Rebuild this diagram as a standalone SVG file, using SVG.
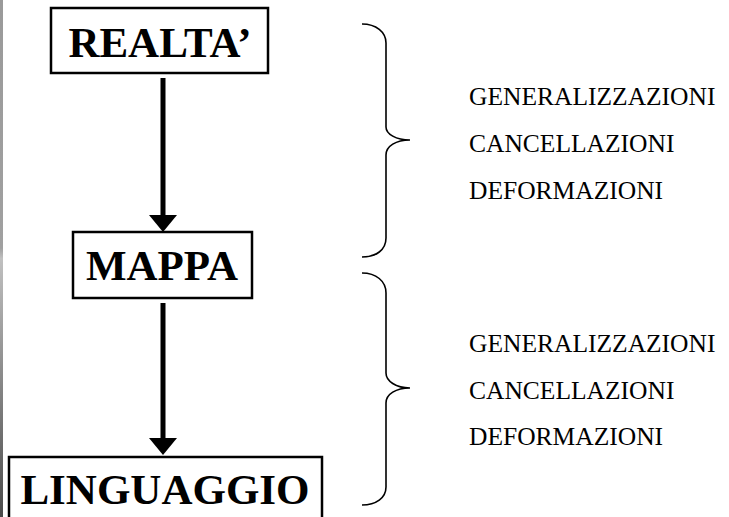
<svg xmlns="http://www.w3.org/2000/svg" width="729" height="517" viewBox="0 0 729 517">
<defs>
<linearGradient id="strip" x1="0" y1="0" x2="0" y2="1">
<stop offset="0" stop-color="#9a9a9a"/>
<stop offset="0.48" stop-color="#a0a0a0"/>
<stop offset="0.5" stop-color="#c0c0c0"/>
<stop offset="1" stop-color="#4a4a4a"/>
</linearGradient>
<marker id="head" markerUnits="userSpaceOnUse" markerWidth="17" markerHeight="28" refX="0" refY="14" orient="auto" overflow="visible">
<path d="M0,0 L17,14 L0,28 Z" fill="#000"/>
</marker>
<style>
.box{fill:#fff;stroke:#000;stroke-width:2.5}
.title{font-family:"Liberation Serif","Times New Roman",serif;font-weight:bold;font-size:43px;fill:#000;text-anchor:middle}
.lbl{font-family:"Liberation Serif","Times New Roman",serif;font-size:25.5px;fill:#000}
.brace{fill:none;stroke:#000;stroke-width:1.6}
.shaft{stroke:#000;stroke-width:5;fill:none}
</style>
</defs>
<rect width="729" height="517" fill="#fff"/>
<rect x="0" y="0" width="3" height="517" fill="url(#strip)"/>
<g id="connectors">
<line class="shaft" x1="163" y1="78" x2="163" y2="215" marker-end="url(#head)"/>
<line class="shaft" x1="163" y1="303" x2="163" y2="438" marker-end="url(#head)"/>
</g>
<g id="node-realta">
<rect class="box" x="51" y="8" width="217" height="65"/>
<text class="title" x="160" y="57">REALTA’</text>
</g>
<g id="node-mappa">
<rect class="box" x="73" y="232" width="179" height="66"/>
<text class="title" x="162" y="280">MAPPA</text>
</g>
<g id="node-linguaggio">
<rect class="box" x="9" y="457" width="313" height="70"/>
<text class="title" x="165" y="504">LINGUAGGIO</text>
</g>
<g id="brace-1">
<path class="brace" d="M362,24 C376,24 386,32 386,43 L386,127 C386,134 396,140 410,140 C396,140 386,146 386,155 L386,238 C386,250 376,257 362,257"/>
<text class="lbl" x="469" y="105">GENERALIZZAZIONI</text>
<text class="lbl" x="469" y="152">CANCELLAZIONI</text>
<text class="lbl" x="469" y="199">DEFORMAZIONI</text>
</g>
<g id="brace-2">
<path class="brace" d="M362,273 C376,273 386,281 386,293 L386,373 C386,381 396,388 410,388 C396,388 386,394 386,403 L386,487 C386,498 376,505 362,505"/>
<text class="lbl" x="469" y="352">GENERALIZZAZIONI</text>
<text class="lbl" x="469" y="399">CANCELLAZIONI</text>
<text class="lbl" x="469" y="445">DEFORMAZIONI</text>
</g>
</svg>
